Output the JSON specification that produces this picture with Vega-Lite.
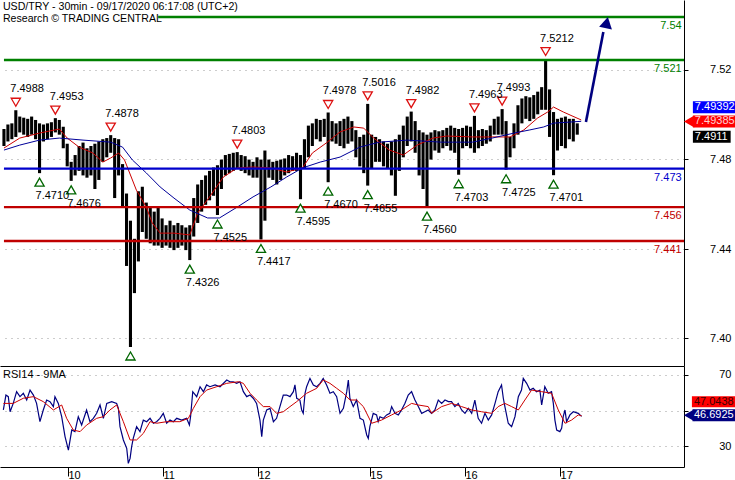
{
  "$schema": "https://vega.github.io/schema/vega-lite/v6.json",
  "padding": 0,
  "background": "white",
  "spacing": 0,
  "config": {
    "view": {"stroke": null},
    "font": "Liberation Sans",
    "text": {"font": "Liberation Sans", "fontSize": 11},
    "axis": {"labelFont": "Liberation Sans", "labelFontSize": 11, "labelColor": "black", "domainColor": "black", "tickColor": "black", "title": null}
  },
  "resolve": {"scale": {"x": "independent", "y": "independent"}},
  "datasets": {
    "bars": [
      {"b":2,"h":7.4905,"l":7.4830},{"b":4,"h":7.4925,"l":7.4850},{"b":6,"h":7.4930,"l":7.4860},{"b":8,"h":7.4988,"l":7.4870},
      {"b":10,"h":7.4960,"l":7.4890},{"b":12,"h":7.4955,"l":7.4880},{"b":14,"h":7.4950,"l":7.4870},{"b":16,"h":7.4960,"l":7.4880},
      {"b":18,"h":7.4945,"l":7.4860},{"b":20,"h":7.4930,"l":7.4710},{"b":22,"h":7.4925,"l":7.4850},{"b":24,"h":7.4930,"l":7.4860},
      {"b":26,"h":7.4935,"l":7.4870},{"b":28,"h":7.4953,"l":7.4890},{"b":30,"h":7.4945,"l":7.4880},{"b":32,"h":7.4915,"l":7.4820},
      {"b":34,"h":7.4840,"l":7.4740},{"b":36,"h":7.4760,"l":7.4676},{"b":38,"h":7.4790,"l":7.4700},{"b":40,"h":7.4830,"l":7.4720},
      {"b":42,"h":7.4845,"l":7.4700},{"b":44,"h":7.4820,"l":7.4690},{"b":46,"h":7.4830,"l":7.4700},{"b":48,"h":7.4840,"l":7.4640},
      {"b":50,"h":7.4850,"l":7.4680},{"b":52,"h":7.4860,"l":7.4760},{"b":54,"h":7.4865,"l":7.4780},{"b":56,"h":7.4878,"l":7.4800},
      {"b":58,"h":7.4865,"l":7.4600},{"b":60,"h":7.4860,"l":7.4700},{"b":62,"h":7.4750,"l":7.4560},{"b":64,"h":7.4620,"l":7.4300},
      {"b":66,"h":7.4500,"l":7.3942},{"b":68,"h":7.4420,"l":7.4180},{"b":70,"h":7.4630,"l":7.4320},{"b":72,"h":7.4650,"l":7.4450},
      {"b":74,"h":7.4580,"l":7.4420},{"b":76,"h":7.4560,"l":7.4400},{"b":78,"h":7.4540,"l":7.4390},{"b":80,"h":7.4560,"l":7.4390},
      {"b":82,"h":7.4510,"l":7.4380},{"b":84,"h":7.4480,"l":7.4390},{"b":86,"h":7.4500,"l":7.4380},{"b":88,"h":7.4480,"l":7.4370},
      {"b":90,"h":7.4490,"l":7.4380},{"b":92,"h":7.4480,"l":7.4390},{"b":94,"h":7.4470,"l":7.4370},{"b":96,"h":7.4480,"l":7.4326},
      {"b":98,"h":7.4600,"l":7.4430},{"b":100,"h":7.4660,"l":7.4490},{"b":102,"h":7.4680,"l":7.4540},{"b":104,"h":7.4700,"l":7.4570},
      {"b":106,"h":7.4720,"l":7.4590},{"b":108,"h":7.4735,"l":7.4610},{"b":110,"h":7.4745,"l":7.4525},{"b":112,"h":7.4770,"l":7.4640},
      {"b":114,"h":7.4790,"l":7.4700},{"b":116,"h":7.4795,"l":7.4710},{"b":118,"h":7.4800,"l":7.4720},{"b":120,"h":7.4803,"l":7.4730},
      {"b":122,"h":7.4790,"l":7.4720},{"b":124,"h":7.4785,"l":7.4710},{"b":126,"h":7.4770,"l":7.4700},{"b":128,"h":7.4760,"l":7.4690},
      {"b":130,"h":7.4780,"l":7.4690},{"b":132,"h":7.4770,"l":7.4417},{"b":134,"h":7.4810,"l":7.4500},{"b":136,"h":7.4770,"l":7.4690},
      {"b":138,"h":7.4760,"l":7.4680},{"b":140,"h":7.4765,"l":7.4660},{"b":142,"h":7.4770,"l":7.4680},{"b":144,"h":7.4775,"l":7.4700},
      {"b":146,"h":7.4790,"l":7.4710},{"b":148,"h":7.4785,"l":7.4720},{"b":150,"h":7.4800,"l":7.4720},{"b":152,"h":7.4790,"l":7.4595},
      {"b":154,"h":7.4860,"l":7.4730},{"b":156,"h":7.4920,"l":7.4780},{"b":158,"h":7.4930,"l":7.4830},{"b":160,"h":7.4950,"l":7.4860},
      {"b":162,"h":7.4945,"l":7.4850},{"b":164,"h":7.4950,"l":7.4870},{"b":166,"h":7.4978,"l":7.4670},{"b":168,"h":7.4940,"l":7.4850},
      {"b":170,"h":7.4930,"l":7.4840},{"b":172,"h":7.4940,"l":7.4830},{"b":174,"h":7.4950,"l":7.4820},{"b":176,"h":7.4960,"l":7.4840},
      {"b":178,"h":7.4940,"l":7.4850},{"b":180,"h":7.4900,"l":7.4780},{"b":182,"h":7.4870,"l":7.4740},{"b":184,"h":7.4880,"l":7.4710},
      {"b":186,"h":7.5016,"l":7.4655},{"b":188,"h":7.4880,"l":7.4730},{"b":190,"h":7.4870,"l":7.4760},{"b":192,"h":7.4860,"l":7.4760},
      {"b":194,"h":7.4850,"l":7.4740},{"b":196,"h":7.4840,"l":7.4730},{"b":198,"h":7.4850,"l":7.4700},{"b":200,"h":7.4860,"l":7.4610},
      {"b":202,"h":7.4880,"l":7.4720},{"b":204,"h":7.4920,"l":7.4780},{"b":206,"h":7.4960,"l":7.4830},{"b":208,"h":7.4982,"l":7.4850},
      {"b":210,"h":7.4940,"l":7.4800},{"b":212,"h":7.4900,"l":7.4700},{"b":214,"h":7.4890,"l":7.4640},{"b":216,"h":7.4880,"l":7.4560},
      {"b":218,"h":7.4890,"l":7.4770},{"b":220,"h":7.4900,"l":7.4810},{"b":222,"h":7.4895,"l":7.4800},{"b":224,"h":7.4900,"l":7.4820},
      {"b":226,"h":7.4910,"l":7.4830},{"b":228,"h":7.4920,"l":7.4810},{"b":230,"h":7.4910,"l":7.4800},{"b":232,"h":7.4905,"l":7.4703},
      {"b":234,"h":7.4910,"l":7.4820},{"b":236,"h":7.4920,"l":7.4830},{"b":238,"h":7.4915,"l":7.4820},{"b":240,"h":7.4963,"l":7.4800},
      {"b":242,"h":7.4900,"l":7.4820},{"b":244,"h":7.4905,"l":7.4830},{"b":246,"h":7.4900,"l":7.4840},{"b":248,"h":7.4920,"l":7.4850},
      {"b":250,"h":7.4950,"l":7.4880},{"b":252,"h":7.4960,"l":7.4880},{"b":254,"h":7.4993,"l":7.4880},{"b":256,"h":7.4940,"l":7.4725},
      {"b":258,"h":7.4870,"l":7.4780},{"b":260,"h":7.4930,"l":7.4820},{"b":262,"h":7.5010,"l":7.4880},{"b":264,"h":7.5040,"l":7.4930},
      {"b":266,"h":7.5050,"l":7.4950},{"b":268,"h":7.5045,"l":7.4940},{"b":270,"h":7.5055,"l":7.4950},{"b":272,"h":7.5070,"l":7.4970},
      {"b":274,"h":7.5090,"l":7.4990},{"b":276,"h":7.5212,"l":7.4990},{"b":278,"h":7.5080,"l":7.4870},{"b":280,"h":7.4980,"l":7.4701},
      {"b":282,"h":7.4950,"l":7.4810},{"b":284,"h":7.4955,"l":7.4830},{"b":286,"h":7.4960,"l":7.4820},{"b":288,"h":7.4950,"l":7.4860},
      {"b":290,"h":7.4950,"l":7.4850},{"b":292,"h":7.4930,"l":7.4880}
    ],
    "ma": [
      {"s":"fast","b":2,"p":7.4821},{"s":"fast","b":10,"p":7.4865},{"s":"fast","b":20,"p":7.4887},{"s":"fast","b":30,"p":7.4905},
      {"s":"fast","b":34,"p":7.4865},{"s":"fast","b":40,"p":7.4825},{"s":"fast","b":47,"p":7.4799},{"s":"fast","b":52,"p":7.4759},
      {"s":"fast","b":56,"p":7.4777},{"s":"fast","b":60,"p":7.4799},{"s":"fast","b":63,"p":7.4768},{"s":"fast","b":69,"p":7.4635},
      {"s":"fast","b":74,"p":7.4560},{"s":"fast","b":77,"p":7.4490},{"s":"fast","b":81,"p":7.4445},{"s":"fast","b":88,"p":7.4445},
      {"s":"fast","b":96,"p":7.4437},{"s":"fast","b":100,"p":7.4534},{"s":"fast","b":106,"p":7.4605},{"s":"fast","b":113,"p":7.4693},
      {"s":"fast","b":120,"p":7.4733},{"s":"fast","b":128,"p":7.4737},{"s":"fast","b":137,"p":7.4733},{"s":"fast","b":145,"p":7.4715},
      {"s":"fast","b":153,"p":7.4733},{"s":"fast","b":158,"p":7.4799},{"s":"fast","b":165,"p":7.4843},{"s":"fast","b":172,"p":7.4892},
      {"s":"fast","b":179,"p":7.4914},{"s":"fast","b":184,"p":7.4909},{"s":"fast","b":189,"p":7.4865},{"s":"fast","b":197,"p":7.4812},
      {"s":"fast","b":204,"p":7.4790},{"s":"fast","b":211,"p":7.4834},{"s":"fast","b":219,"p":7.4865},{"s":"fast","b":226,"p":7.4874},
      {"s":"fast","b":239,"p":7.4870},{"s":"fast","b":249,"p":7.4870},{"s":"fast","b":258,"p":7.4870},{"s":"fast","b":265,"p":7.4901},
      {"s":"fast","b":272,"p":7.4954},{"s":"fast","b":277,"p":7.4980},{"s":"fast","b":280,"p":7.5002},{"s":"fast","b":285,"p":7.4980},
      {"s":"fast","b":294,"p":7.4945},
      {"s":"slow","b":2,"p":7.4812},{"s":"slow","b":10,"p":7.4834},{"s":"slow","b":20,"p":7.4856},{"s":"slow","b":30,"p":7.4865},
      {"s":"slow","b":42,"p":7.4856},{"s":"slow","b":56,"p":7.4847},{"s":"slow","b":62,"p":7.4825},{"s":"slow","b":67,"p":7.4768},
      {"s":"slow","b":74,"p":7.4711},{"s":"slow","b":81,"p":7.4649},{"s":"slow","b":88,"p":7.4600},{"s":"slow","b":96,"p":7.4547},
      {"s":"slow","b":105,"p":7.4512},{"s":"slow","b":111,"p":7.4512},{"s":"slow","b":120,"p":7.4560},{"s":"slow","b":128,"p":7.4605},
      {"s":"slow","b":137,"p":7.4649},{"s":"slow","b":145,"p":7.4693},{"s":"slow","b":153,"p":7.4733},{"s":"slow","b":162,"p":7.4759},
      {"s":"slow","b":172,"p":7.4781},{"s":"slow","b":182,"p":7.4825},{"s":"slow","b":192,"p":7.4847},{"s":"slow","b":206,"p":7.4856},
      {"s":"slow","b":223,"p":7.4847},{"s":"slow","b":239,"p":7.4847},{"s":"slow","b":249,"p":7.4865},{"s":"slow","b":260,"p":7.4887},
      {"s":"slow","b":268,"p":7.4901},{"s":"slow","b":275,"p":7.4914},{"s":"slow","b":280,"p":7.4931},{"s":"slow","b":294,"p":7.4939}
    ],
    "levels": [
      {"p":7.54,"kind":"resistance"},{"p":7.521,"kind":"resistance"},{"p":7.473,"kind":"pivot"},
      {"p":7.456,"kind":"support"},{"p":7.441,"kind":"support"}
    ],
    "highs": [
      {"b":8,"p":7.4988},{"b":28,"p":7.4953},{"b":56,"p":7.4878},{"b":120,"p":7.4803},{"b":166,"p":7.4978},
      {"b":186,"p":7.5016},{"b":208,"p":7.4982},{"b":240,"p":7.4963},{"b":254,"p":7.4993},{"b":276,"p":7.5212}
    ],
    "lows": [
      {"b":20,"p":7.4710,"shown":true},{"b":36,"p":7.4676,"shown":true},{"b":66,"p":7.3942,"shown":false},
      {"b":96,"p":7.4326,"shown":true},{"b":110,"p":7.4525,"shown":true},{"b":132,"p":7.4417,"shown":true},
      {"b":152,"p":7.4595,"shown":true},{"b":166,"p":7.4670,"shown":true},{"b":186,"p":7.4655,"shown":true},
      {"b":216,"p":7.4560,"shown":true},{"b":232,"p":7.4703,"shown":true},{"b":256,"p":7.4725,"shown":true},
      {"b":280,"p":7.4701,"shown":true}
    ],
    "forecast": [{"b":296.4,"p":7.4936},{"b":305.2,"p":7.5334}],
    "forecastHead": [{"b":306.9,"p":7.5375}],
    "last": [{"name":"slowMA","v":7.49392},{"name":"fastMA","v":7.49385},{"name":"close","v":7.4911}],
    "rsi": [
      {"b":1.7,"v":50.3},{"b":3.0,"v":58.7},{"b":4.2,"v":57.8},{"b":5.1,"v":49.3},{"b":6.7,"v":54.0},{"b":8.4,"v":60.6},
      {"b":10.1,"v":57.8},{"b":11.8,"v":59.7},{"b":13.5,"v":55.9},{"b":15.2,"v":61.5},{"b":16.9,"v":58.7},{"b":18.5,"v":54.0},
      {"b":20.2,"v":43.7},{"b":21.9,"v":50.3},{"b":23.6,"v":55.9},{"b":25.3,"v":55.0},{"b":27.0,"v":52.2},{"b":27.8,"v":57.8},
      {"b":29.5,"v":54.0},{"b":31.2,"v":46.5},{"b":32.9,"v":35.3},{"b":34.6,"v":27.7},{"b":36.3,"v":39.0},{"b":37.9,"v":38.1},
      {"b":39.6,"v":46.5},{"b":41.3,"v":41.8},{"b":43.8,"v":50.3},{"b":45.5,"v":43.7},{"b":47.2,"v":45.6},{"b":48.9,"v":48.4},
      {"b":50.6,"v":53.1},{"b":52.3,"v":45.6},{"b":54.0,"v":54.0},{"b":56.5,"v":55.0},{"b":59.0,"v":54.0},{"b":59.9,"v":51.2},
      {"b":60.7,"v":40.9},{"b":62.4,"v":33.4},{"b":64.1,"v":28.7},{"b":64.9,"v":20.2},{"b":65.8,"v":23.0},{"b":66.6,"v":29.6},
      {"b":67.4,"v":34.3},{"b":69.1,"v":40.9},{"b":70.8,"v":38.1},{"b":72.5,"v":44.6},{"b":74.2,"v":43.7},{"b":75.9,"v":45.6},
      {"b":77.6,"v":42.8},{"b":79.2,"v":43.7},{"b":80.9,"v":45.6},{"b":82.6,"v":48.4},{"b":84.3,"v":42.8},{"b":86.0,"v":44.6},
      {"b":87.7,"v":43.7},{"b":89.4,"v":45.6},{"b":91.9,"v":44.6},{"b":94.4,"v":45.6},{"b":95.8,"v":41.8},{"b":96.4,"v":46.5},
      {"b":97.5,"v":60.6},{"b":99.5,"v":57.8},{"b":101.2,"v":63.4},{"b":102.9,"v":60.6},{"b":104.5,"v":64.4},{"b":106.2,"v":63.4},
      {"b":108.8,"v":64.4},{"b":111.3,"v":63.4},{"b":114.7,"v":67.2},{"b":116.3,"v":66.2},{"b":118.0,"v":66.2},{"b":119.7,"v":65.3},
      {"b":121.4,"v":66.2},{"b":123.1,"v":60.6},{"b":124.8,"v":57.8},{"b":126.5,"v":58.7},{"b":128.1,"v":56.9},{"b":129.8,"v":54.0},
      {"b":131.5,"v":44.6},{"b":132.4,"v":35.3},{"b":133.2,"v":44.6},{"b":134.9,"v":50.3},{"b":136.6,"v":51.2},{"b":138.3,"v":43.7},
      {"b":139.9,"v":45.6},{"b":141.6,"v":52.2},{"b":143.3,"v":58.7},{"b":145.0,"v":58.7},{"b":146.7,"v":57.8},{"b":148.4,"v":60.6},
      {"b":149.2,"v":64.4},{"b":150.1,"v":56.9},{"b":151.7,"v":55.9},{"b":152.6,"v":50.3},{"b":153.4,"v":48.4},{"b":154.3,"v":59.7},
      {"b":155.1,"v":63.4},{"b":156.8,"v":68.1},{"b":158.5,"v":64.4},{"b":160.2,"v":63.4},{"b":161.9,"v":65.3},{"b":163.5,"v":68.1},
      {"b":165.2,"v":64.4},{"b":166.9,"v":59.7},{"b":168.6,"v":60.6},{"b":170.3,"v":57.8},{"b":172.0,"v":48.4},{"b":173.7,"v":51.2},
      {"b":175.4,"v":60.6},{"b":176.2,"v":67.2},{"b":177.0,"v":56.9},{"b":178.7,"v":52.2},{"b":180.4,"v":55.9},{"b":182.1,"v":45.6},
      {"b":183.8,"v":44.6},{"b":185.5,"v":36.2},{"b":186.3,"v":34.3},{"b":187.1,"v":40.9},{"b":188.8,"v":48.4},{"b":190.5,"v":47.5},
      {"b":191.3,"v":43.7},{"b":192.2,"v":46.5},{"b":193.9,"v":45.6},{"b":195.6,"v":47.5},{"b":197.2,"v":48.4},{"b":198.1,"v":52.2},
      {"b":199.8,"v":48.4},{"b":201.5,"v":47.5},{"b":203.1,"v":50.3},{"b":204.8,"v":54.0},{"b":206.5,"v":58.7},{"b":208.2,"v":60.6},
      {"b":209.9,"v":55.9},{"b":211.6,"v":52.2},{"b":213.3,"v":48.4},{"b":214.9,"v":49.3},{"b":216.6,"v":50.3},{"b":218.3,"v":48.4},
      {"b":220.0,"v":50.3},{"b":221.7,"v":55.9},{"b":223.4,"v":54.0},{"b":225.1,"v":55.9},{"b":226.8,"v":55.0},{"b":228.4,"v":55.0},
      {"b":230.1,"v":52.2},{"b":231.8,"v":54.0},{"b":233.5,"v":50.3},{"b":235.2,"v":48.4},{"b":236.9,"v":51.2},{"b":238.6,"v":48.4},
      {"b":240.2,"v":55.9},{"b":241.9,"v":45.6},{"b":243.6,"v":42.8},{"b":245.3,"v":48.4},{"b":247.0,"v":44.6},{"b":248.7,"v":47.5},
      {"b":250.4,"v":54.0},{"b":252.0,"v":60.6},{"b":253.7,"v":64.4},{"b":254.6,"v":56.9},{"b":255.4,"v":52.2},{"b":257.1,"v":42.8},
      {"b":258.8,"v":40.9},{"b":260.5,"v":46.5},{"b":262.2,"v":57.8},{"b":263.8,"v":61.5},{"b":264.7,"v":68.1},{"b":266.4,"v":65.3},
      {"b":268.1,"v":61.5},{"b":269.7,"v":62.5},{"b":271.4,"v":60.6},{"b":273.1,"v":61.5},{"b":274.0,"v":53.1},{"b":275.6,"v":63.4},
      {"b":277.3,"v":59.7},{"b":279.0,"v":60.6},{"b":279.9,"v":54.0},{"b":280.7,"v":44.6},{"b":281.6,"v":39.0},{"b":283.2,"v":38.1},
      {"b":284.1,"v":40.0},{"b":284.9,"v":46.5},{"b":285.8,"v":50.3},{"b":286.6,"v":43.7},{"b":288.3,"v":47.5},{"b":290.0,"v":49.3},
      {"b":292.5,"v":48.4},{"b":294.2,"v":46.7}
    ],
    "rsiMA": [
      {"b":1.7,"v":54.0},{"b":6.7,"v":54.0},{"b":11.8,"v":56.9},{"b":16.9,"v":57.8},{"b":21.9,"v":55.0},{"b":27.0,"v":50.3},
      {"b":31.2,"v":53.1},{"b":33.7,"v":45.6},{"b":37.1,"v":39.0},{"b":40.5,"v":38.1},{"b":43.8,"v":41.8},{"b":48.9,"v":45.6},
      {"b":52.3,"v":46.5},{"b":55.6,"v":50.3},{"b":59.0,"v":53.1},{"b":62.4,"v":43.7},{"b":65.8,"v":33.4},{"b":69.1,"v":33.4},
      {"b":72.5,"v":37.1},{"b":75.9,"v":43.7},{"b":79.2,"v":42.8},{"b":84.3,"v":43.7},{"b":91.0,"v":43.7},{"b":95.3,"v":45.6},
      {"b":97.8,"v":51.2},{"b":101.2,"v":57.8},{"b":104.5,"v":61.5},{"b":109.6,"v":63.4},{"b":114.7,"v":65.3},{"b":120.6,"v":66.2},
      {"b":123.1,"v":65.3},{"b":126.5,"v":59.7},{"b":129.8,"v":55.9},{"b":133.2,"v":52.2},{"b":136.6,"v":52.2},{"b":139.9,"v":48.4},
      {"b":143.3,"v":49.3},{"b":146.7,"v":52.2},{"b":150.1,"v":55.0},{"b":155.1,"v":59.7},{"b":160.2,"v":62.5},{"b":163.5,"v":67.2},
      {"b":166.9,"v":65.3},{"b":170.3,"v":62.5},{"b":173.7,"v":59.7},{"b":177.0,"v":55.9},{"b":180.4,"v":55.9},{"b":183.8,"v":52.2},
      {"b":188.0,"v":42.8},{"b":193.0,"v":44.6},{"b":198.1,"v":47.5},{"b":203.1,"v":50.3},{"b":208.2,"v":54.0},{"b":211.6,"v":53.1},
      {"b":216.6,"v":52.2},{"b":218.3,"v":48.4},{"b":223.4,"v":52.2},{"b":228.4,"v":54.0},{"b":233.5,"v":52.2},{"b":238.6,"v":50.3},
      {"b":243.6,"v":49.3},{"b":248.7,"v":48.4},{"b":252.0,"v":52.2},{"b":255.4,"v":54.0},{"b":258.8,"v":52.2},{"b":262.2,"v":50.3},
      {"b":265.5,"v":55.9},{"b":268.9,"v":61.5},{"b":274.0,"v":60.6},{"b":279.0,"v":59.7},{"b":282.4,"v":50.3},{"b":285.8,"v":42.8},
      {"b":289.1,"v":44.6},{"b":292.5,"v":47.5},{"b":294.2,"v":47.0}
    ],
    "rsiLast": [{"name":"ma","v":47.0438},{"name":"rsi","v":46.6925}]
  },
  "vconcat": [
    {
      "width": 684,
      "height": 366,
      "layer": [
        {
          "data": {"name": "bars"},
          "mark": {"type": "rule", "color": "black", "strokeWidth": 3.1},
          "encoding": {
            "x": {"field": "b", "type": "quantitative",
                  "scale": {"domain": [0, 346], "nice": false, "zero": false},
                  "axis": {"orient": "bottom", "labels": false, "ticks": false, "grid": false, "domain": true}},
            "y": {"field": "l", "type": "quantitative",
                  "scale": {"domain": [7.3858, 7.5475], "nice": false, "zero": false},
                  "axis": {"orient": "right", "values": [7.398, 7.4373, 7.4771, 7.5166],
                           "labelExpr": "format(round(datum.value*25)/25, '.2f')",
                           "grid": true, "gridDash": [1, 5], "gridColor": "#9a9a9a",
                           "tickSize": 4, "labelAlign": "right", "labelPadding": 43,
                           "labelOverlap": false, "labelBound": false}},
            "y2": {"field": "h"}
          }
        },
        {
          "data": {"name": "ma"},
          "mark": {"type": "line", "strokeWidth": 1},
          "encoding": {
            "x": {"field": "b", "type": "quantitative"},
            "y": {"field": "p", "type": "quantitative"},
            "color": {"field": "s", "type": "nominal", "legend": null,
                      "scale": {"domain": ["fast", "slow", "resistance", "pivot", "support"],
                                "range": ["#cc0000", "#000099", "#008000", "#0000cc", "#c00000"]}}
          }
        },
        {
          "data": {"name": "levels"},
          "transform": [{"filter": "datum.p < 7.53"}],
          "mark": {"type": "rule", "strokeWidth": 2.4},
          "encoding": {
            "x": {"datum": 2},
            "x2": {"datum": 346},
            "y": {"field": "p", "type": "quantitative"},
            "color": {"field": "kind", "type": "nominal", "legend": null}
          }
        },
        {
          "data": {"name": "levels"},
          "transform": [{"filter": "datum.p >= 7.53"}],
          "mark": {"type": "rule", "strokeWidth": 2.4},
          "encoding": {
            "x": {"datum": 80},
            "x2": {"datum": 346},
            "y": {"field": "p", "type": "quantitative"},
            "color": {"field": "kind", "type": "nominal", "legend": null}
          }
        },
        {
          "data": {"name": "levels"},
          "mark": {"type": "text", "align": "right", "baseline": "top", "dy": 3, "fontSize": 11},
          "encoding": {
            "x": {"datum": 344.8},
            "y": {"field": "p", "type": "quantitative"},
            "text": {"field": "p", "type": "nominal"},
            "color": {"field": "kind", "type": "nominal", "legend": null}
          }
        },
        {
          "data": {"name": "highs"},
          "mark": {"type": "point", "shape": "triangle-down", "size": 85, "filled": true, "fill": "white", "stroke": "#dd1111", "strokeWidth": 1.3, "opacity": 1, "yOffset": -8},
          "encoding": {
            "x": {"field": "b", "type": "quantitative"},
            "y": {"field": "p", "type": "quantitative"}
          }
        },
        {
          "data": {"name": "highs"},
          "mark": {"type": "text", "align": "left", "baseline": "middle", "dx": -5.5, "dy": -21, "fontSize": 11, "color": "black"},
          "encoding": {
            "x": {"field": "b", "type": "quantitative"},
            "y": {"field": "p", "type": "quantitative"},
            "text": {"field": "p", "type": "quantitative", "format": ".4f"}
          }
        },
        {
          "data": {"name": "lows"},
          "mark": {"type": "point", "shape": "triangle-up", "size": 85, "filled": true, "fill": "white", "stroke": "#006600", "strokeWidth": 1.3, "opacity": 1, "yOffset": 9},
          "encoding": {
            "x": {"field": "b", "type": "quantitative"},
            "y": {"field": "p", "type": "quantitative"}
          }
        },
        {
          "data": {"name": "lows"},
          "transform": [{"filter": "datum.shown"}],
          "mark": {"type": "text", "align": "left", "baseline": "middle", "dx": -4, "dy": 23, "fontSize": 11, "color": "black"},
          "encoding": {
            "x": {"field": "b", "type": "quantitative"},
            "y": {"field": "p", "type": "quantitative"},
            "text": {"field": "p", "type": "quantitative", "format": ".4f"}
          }
        },
        {
          "data": {"values": [{}]},
          "mark": {"type": "text", "align": "left", "baseline": "top", "dy": 1.5, "fontSize": 10.6, "lineHeight": 12.7, "color": "black",
                   "text": ["USD/TRY - 30min - 09/17/2020 06:17:08 (UTC+2)", "Research © TRADING CENTRAL"]},
          "encoding": {
            "x": {"datum": 1.5},
            "y": {"datum": 7.5475}
          }
        },
        {
          "data": {"name": "forecast"},
          "mark": {"type": "line", "color": "#000080", "strokeWidth": 2.6},
          "encoding": {
            "x": {"field": "b", "type": "quantitative"},
            "y": {"field": "p", "type": "quantitative"}
          }
        },
        {
          "data": {"name": "forecastHead"},
          "mark": {"type": "point", "shape": "triangle-up", "size": 170, "filled": true, "color": "#000080", "opacity": 1, "angle": 12},
          "encoding": {
            "x": {"field": "b", "type": "quantitative"},
            "y": {"field": "p", "type": "quantitative"}
          }
        },
        {
          "data": {"name": "last"},
          "transform": [{"filter": "datum.name == 'slowMA'"}],
          "mark": {"type": "rule", "color": "#0000ff", "strokeWidth": 12, "strokeCap": "butt", "yOffset": -14},
          "encoding": {"x": {"datum": 350.5}, "x2": {"datum": 372}, "y": {"field": "v", "type": "quantitative"}}
        },
        {
          "data": {"name": "last"},
          "transform": [{"filter": "datum.name == 'slowMA'"}],
          "mark": {"type": "text", "align": "left", "baseline": "middle", "color": "white", "fontSize": 11, "yOffset": -14},
          "encoding": {"x": {"datum": 351.5}, "y": {"field": "v", "type": "quantitative"}, "text": {"field": "v", "type": "nominal"}}
        },
        {
          "data": {"name": "last"},
          "transform": [{"filter": "datum.name == 'fastMA'"}],
          "mark": {"type": "rule", "color": "#ff0000", "strokeWidth": 12, "strokeCap": "butt"},
          "encoding": {"x": {"datum": 350.5}, "x2": {"datum": 372}, "y": {"field": "v", "type": "quantitative"}}
        },
        {
          "data": {"name": "last"},
          "transform": [{"filter": "datum.name == 'fastMA'"}],
          "mark": {"type": "point", "shape": "triangle-left", "size": 144, "filled": true, "color": "#ff0000", "opacity": 1},
          "encoding": {"x": {"datum": 348.6}, "y": {"field": "v", "type": "quantitative"}}
        },
        {
          "data": {"name": "last"},
          "transform": [{"filter": "datum.name == 'fastMA'"}],
          "mark": {"type": "text", "align": "left", "baseline": "middle", "color": "#ffd0d0", "fontSize": 11},
          "encoding": {"x": {"datum": 351.5}, "y": {"field": "v", "type": "quantitative"}, "text": {"field": "v", "type": "nominal"}}
        },
        {
          "data": {"name": "last"},
          "transform": [{"filter": "datum.name == 'close'"}],
          "mark": {"type": "rule", "color": "black", "strokeWidth": 12, "strokeCap": "butt", "yOffset": 9},
          "encoding": {"x": {"datum": 350.5}, "x2": {"datum": 369.6}, "y": {"field": "v", "type": "quantitative"}}
        },
        {
          "data": {"name": "last"},
          "transform": [{"filter": "datum.name == 'close'"}],
          "mark": {"type": "text", "align": "left", "baseline": "middle", "color": "white", "fontSize": 11, "yOffset": 9},
          "encoding": {"x": {"datum": 351.5}, "y": {"field": "v", "type": "quantitative"}, "text": {"field": "v", "type": "nominal"}}
        }
      ]
    },
    {
      "width": 684,
      "height": 101,
      "layer": [
        {
          "data": {"name": "rsi"},
          "mark": {"type": "line", "color": "#000080", "strokeWidth": 1.2},
          "encoding": {
            "x": {"field": "b", "type": "quantitative",
                  "scale": {"domain": [0, 346], "nice": false, "zero": false},
                  "axis": {"orient": "bottom", "values": [34.4, 82.4, 130.5, 187.1, 235.2, 283.3],
                           "labelExpr": "datum.value < 50 ? '10' : datum.value < 100 ? '11' : datum.value < 150 ? '12' : datum.value < 200 ? '15' : datum.value < 250 ? '16' : '17'",
                           "tickSize": 9, "labelAlign": "left", "labelBaseline": "top", "labelPadding": -7, "labelDx": 3,
                           "grid": false, "labelOverlap": false, "labelBound": false}},
            "y": {"field": "v", "type": "quantitative",
                  "scale": {"domain": [18.17, 75.07], "nice": false, "zero": false},
                  "axis": {"orient": "right", "values": [30, 50, 70],
                           "labelExpr": "datum.value == 50 ? '' : datum.label",
                           "grid": true, "gridDash": [1, 5], "gridColor": "#9a9a9a",
                           "tickSize": 4, "labelAlign": "right", "labelPadding": 43,
                           "labelOverlap": false, "labelBound": false}}
          }
        },
        {
          "data": {"name": "rsiMA"},
          "mark": {"type": "line", "color": "#cc0000", "strokeWidth": 1},
          "encoding": {
            "x": {"field": "b", "type": "quantitative"},
            "y": {"field": "v", "type": "quantitative"}
          }
        },
        {
          "data": {"values": [{}]},
          "mark": {"type": "text", "align": "left", "baseline": "top", "dy": 3, "fontSize": 11, "color": "black", "text": "RSI14 - 9MA"},
          "encoding": {"x": {"datum": 1.5}, "y": {"datum": 75.07}}
        },
        {
          "data": {"name": "rsiLast"},
          "transform": [{"filter": "datum.name == 'ma'"}],
          "mark": {"type": "rule", "color": "#ff0000", "strokeWidth": 11, "strokeCap": "butt", "yOffset": -14},
          "encoding": {"x": {"datum": 350}, "x2": {"datum": 372}, "y": {"field": "v", "type": "quantitative"}}
        },
        {
          "data": {"name": "rsiLast"},
          "transform": [{"filter": "datum.name == 'ma'"}],
          "mark": {"type": "text", "align": "left", "baseline": "middle", "color": "#400000", "fontSize": 11, "yOffset": -14},
          "encoding": {"x": {"datum": 351}, "y": {"field": "v", "type": "quantitative"}, "text": {"field": "v", "type": "nominal"}}
        },
        {
          "data": {"name": "rsiLast"},
          "transform": [{"filter": "datum.name == 'rsi'"}],
          "mark": {"type": "rule", "color": "#000080", "strokeWidth": 12, "strokeCap": "butt", "yOffset": -1},
          "encoding": {"x": {"datum": 350.3}, "x2": {"datum": 372}, "y": {"field": "v", "type": "quantitative"}}
        },
        {
          "data": {"name": "rsiLast"},
          "transform": [{"filter": "datum.name == 'rsi'"}],
          "mark": {"type": "point", "shape": "triangle-left", "size": 144, "filled": true, "color": "#000080", "opacity": 1, "yOffset": -1},
          "encoding": {"x": {"datum": 348.6}, "y": {"field": "v", "type": "quantitative"}}
        },
        {
          "data": {"name": "rsiLast"},
          "transform": [{"filter": "datum.name == 'rsi'"}],
          "mark": {"type": "text", "align": "left", "baseline": "middle", "color": "white", "fontSize": 11, "yOffset": -1},
          "encoding": {"x": {"datum": 351}, "y": {"field": "v", "type": "quantitative"}, "text": {"field": "v", "type": "nominal"}}
        }
      ]
    }
  ]
}
